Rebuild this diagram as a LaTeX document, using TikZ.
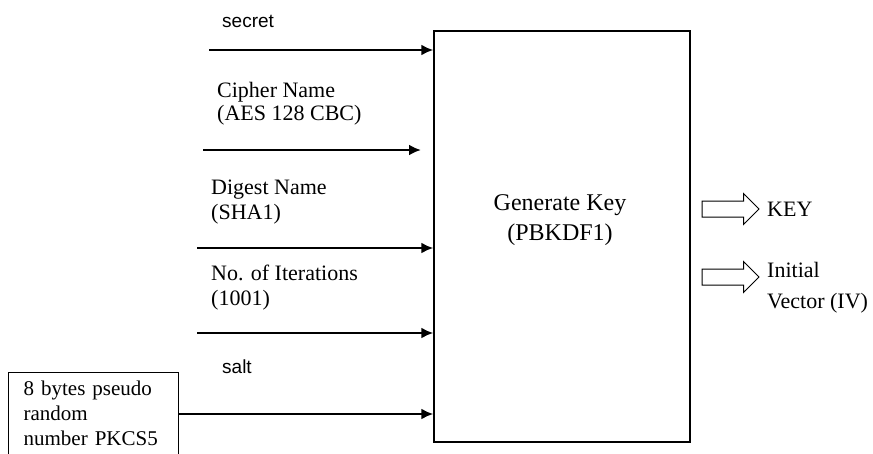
\documentclass[tikz,border=0pt]{standalone}
\usepackage{fontspec}
\setmainfont{Liberation Serif}
\newfontfamily\arialfont{Liberation Sans}
\usetikzlibrary{shapes.arrows,arrows.meta}
\begin{document}
\begin{tikzpicture}[x=1pt, y=-1pt, >={Latex[length=12pt,width=11pt]},
      inp/.style={->, line width=2.8pt},
      lbl/.style={anchor=west, align=left, inner sep=0pt, font=\fontsize{22}{24}\selectfont},
      sanslbl/.style={lbl, font=\arialfont\fontsize{19}{22}\selectfont},
      outarr/.style={single arrow, draw, line width=1pt, inner sep=0pt, text height=15pt, text depth=0pt,
        minimum height=57pt, single arrow head extend=7.5pt}]
    % coordinates are pixels of the 873x453 sheet, y runs downwards
    \useasboundingbox (0,0) rectangle (873,453);
    \clip (0,0) rectangle (873,453);
    \node[draw, line width=1.3pt, minimum width=256pt, minimum height=411pt] (gen) at (562,236.5) {};
    \node[font=\fontsize{24}{30}\selectfont, align=center] (genlbl) at (560,220) {Generate Key\\(PBKDF1)};
    % inputs on the left
    \node[sanslbl] (seclbl) at (222,21) {secret};
    \coordinate (sec) at (209,50);
    \draw[inp] (sec) -- (sec -| gen.west);
    \node[lbl, font=\fontsize{22}{23}\selectfont] (cphlbl) at (217,103.5) {Cipher Name\\(AES 128 CBC)};
    \coordinate (cph) at (203,150);
    \coordinate (cphend) at (421,150);
    \draw[inp] (cph) -- (cphend);
    \node[lbl, font=\fontsize{22}{25}\selectfont] (dgtlbl) at (211,202.5) {Digest Name\\(SHA1)};
    \coordinate (dgt) at (197,248);
    \draw[inp] (dgt) -- (dgt -| gen.west);
    \node[lbl, font=\fontsize{22}{25}\selectfont] (itrlbl) at (211,287.5) {No. of Iterations\\(1001)};
    \coordinate (itr) at (197,333);
    \draw[inp] (itr) -- (itr -| gen.west);
    \node[sanslbl] (sltlbl) at (222,367) {salt};
    \node[draw, line width=1.3pt, anchor=north west, align=left, text width=140pt,
      inner xsep=15pt, inner ysep=8pt, font=\fontsize{21}{25}\selectfont] (rnd) at (8,372)
      {8 bytes pseudo\\random\\number PKCS5\\~};
    \draw[inp] ([yshift=-42pt]rnd.north east) -- ([yshift=-42pt]rnd.north east -| gen.west);
    % outputs on the right
    \node[outarr] (key) at (726.5,209) {};
    \node[lbl] (keylbl) at (767,209) {KEY};
    \node[outarr] (iv) at (726.5,277) {};
    \node[lbl, font=\fontsize{22}{31}\selectfont] (ivlbl) at (767,287.5) {Initial\\Vector (IV)};
  \end{tikzpicture}
\end{document}
